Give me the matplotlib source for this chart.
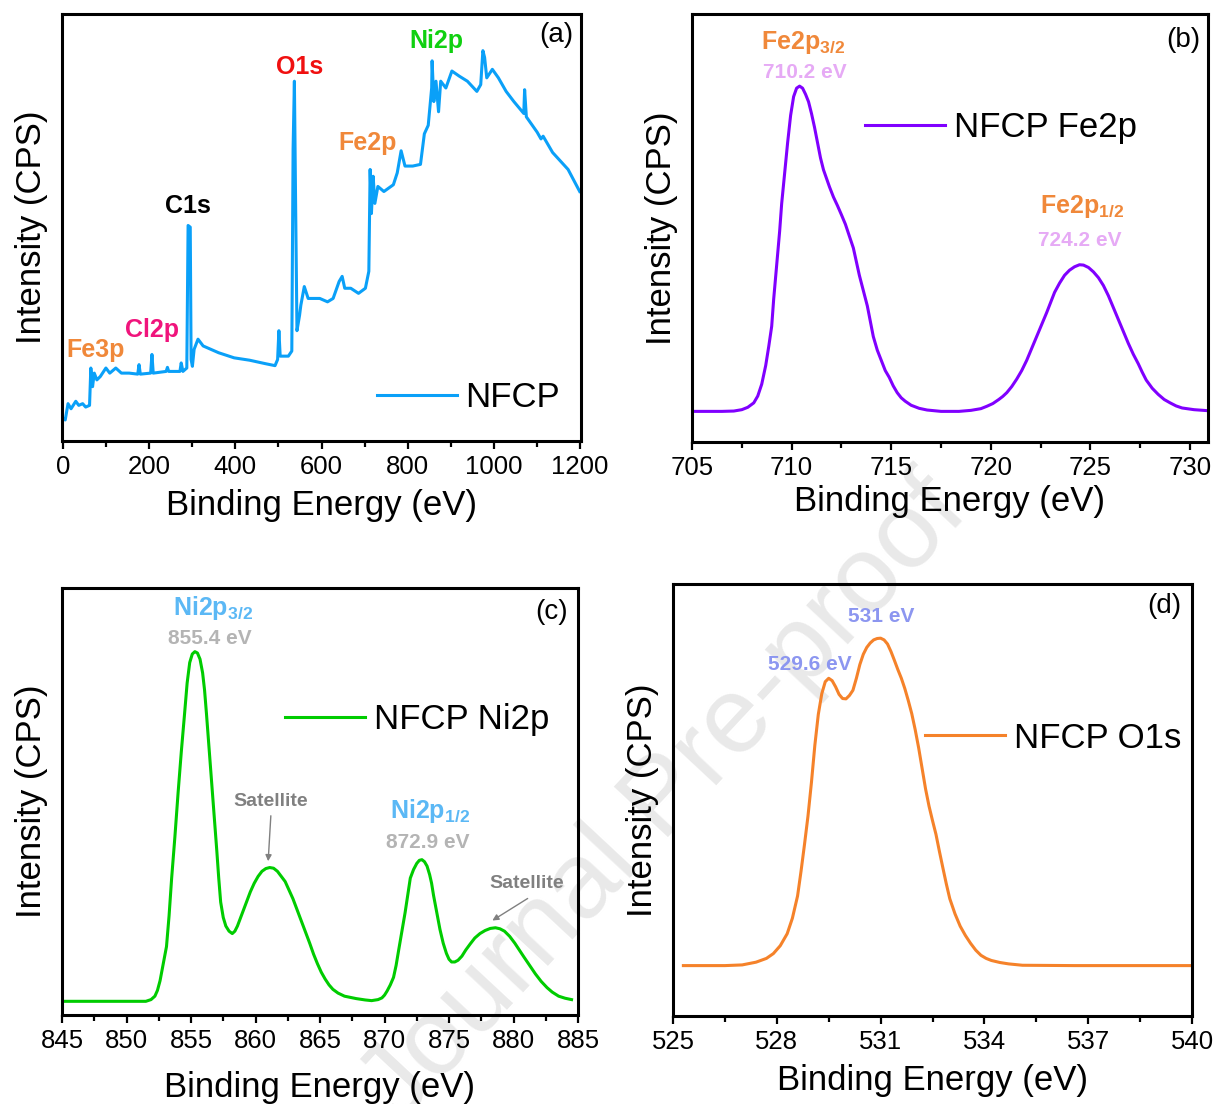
import matplotlib
matplotlib.use("Agg")
import matplotlib.pyplot as plt
from matplotlib.ticker import MultipleLocator

plt.rcParams['font.family'] = ['Liberation Sans', 'DejaVu Sans']
plt.rcParams['mathtext.fontset'] = 'custom'
plt.rcParams['mathtext.rm'] = 'Liberation Sans'
plt.rcParams['mathtext.bf'] = 'Liberation Sans:bold'
plt.rcParams['mathtext.it'] = 'Liberation Sans:italic'

# ---------------- data (arbitrary intensity units) -------------
survey_be = [0, 4.5, 11, 18, 29, 36, 45, 52, 61, 64, 68, 72, 78, 86, 99, 108, 122, 135, 153,
             173, 176, 179, 203, 206, 209, 239, 242, 245, 271, 274, 278, 287, 290, 295, 297,
             300, 304, 313, 325, 361, 397, 433, 469, 492, 498, 501, 504, 523, 531,
             534, 537, 540, 543, 549, 552, 560, 569, 596, 614, 627, 641, 648, 654, 668, 686,
             702, 710, 713, 716, 720, 724, 731, 745, 767, 776, 785, 794, 812, 830, 839, 848,
             856, 857, 861, 866, 872, 877, 889, 903, 920, 939, 961, 970, 975, 979, 984, 997,
             1011, 1029, 1047, 1070, 1072, 1076, 1101, 1110, 1115, 1137, 1173, 1200]
survey_cps = [65, 62, 110, 95, 117, 105, 110, 100, 105, 215, 160, 200, 180, 190, 215, 200, 215,
              200, 200, 197, 225, 197, 200, 255, 200, 205, 217, 205, 205, 230, 205, 215, 635,
              630, 240, 220, 270, 300, 280, 260, 245, 238, 228, 222, 240, 325, 250,
              250, 265, 860, 1060, 680, 325, 370, 400, 455, 420, 420, 410, 420, 470, 485, 450,
              450, 435, 450, 500, 800, 670, 780, 700, 750, 735, 755, 790, 855, 810, 810, 815,
              905, 930, 1040, 1120, 1000, 1060, 970, 1060, 1040, 1090, 1075, 1060, 1030, 1050,
              1150, 1130, 1070, 1095, 1070, 1030, 1000, 965, 1035, 955, 910, 890, 898, 850, 800, 735]

fe_be = [705.0, 706.5, 707.1, 707.5, 707.8, 708.1, 708.3, 708.5, 708.7, 708.85, 709.0, 709.1,
         709.25, 709.4, 709.5, 709.65, 709.8, 709.95, 710.1, 710.25, 710.4, 710.55, 710.7,
         710.85, 711.0, 711.15, 711.3, 711.45, 711.6, 711.75, 711.9, 712.1, 712.3, 712.5,
         712.7, 712.9, 713.1, 713.25, 713.4, 713.6, 713.8, 713.95, 714.1, 714.3, 714.5, 714.7,
         714.9, 715.1, 715.3, 715.5, 715.7, 716.0, 716.4, 716.8, 717.5, 718.4, 719.0, 719.5,
         719.8, 720.1, 720.4, 720.6, 720.8, 721.05, 721.3, 721.55, 721.8, 722.05, 722.3,
         722.55, 722.8, 723.0, 723.2, 723.45, 723.7, 723.95, 724.2, 724.45, 724.65, 724.9,
         725.15, 725.4, 725.65, 725.9, 726.15, 726.4, 726.65, 726.9, 727.15, 727.4, 727.6,
         727.8, 728.1, 728.4, 728.7, 729.0, 729.3, 729.6, 730.2, 730.9]
fe_cps = [90, 90, 91, 95, 102, 115, 135, 170, 225, 280, 340, 420, 520, 620, 700, 790, 880, 960,
          1015, 1040, 1046, 1040, 1022, 1000, 965, 925, 880, 835, 800, 775, 750, 720, 695, 668,
          640, 605, 570, 530, 490, 445, 400, 355, 310, 270, 240, 210, 190, 165, 145, 130, 120,
          108, 99, 94, 90, 90, 93, 98, 105, 113, 125, 134, 145, 163, 185, 210, 240, 275, 310,
          345, 380, 410, 440, 467, 490, 505, 515, 521, 520, 513, 500, 483, 460, 430, 395, 360,
          325, 290, 258, 230, 205, 182, 158, 140, 125, 115, 106, 100, 95, 92]

ni_be = [845.0, 851.5, 851.9, 852.2, 852.4, 852.6, 852.8, 853.0, 853.1, 853.3, 853.5, 853.75,
         854.0, 854.25, 854.5, 854.7, 854.9, 855.1, 855.3, 855.5, 855.7, 855.9, 856.05, 856.2,
         856.4, 856.6, 856.8, 857.0, 857.15, 857.3, 857.5, 857.7, 857.95, 858.2, 858.4, 858.6,
         858.8, 859.0, 859.3, 859.6, 859.9, 860.2, 860.5, 860.8, 861.1, 861.4, 861.7, 862.0,
         862.3, 862.6, 862.9, 863.2, 863.5, 863.85, 864.2, 864.5, 864.8, 865.1, 865.4, 865.7,
         866.0, 866.4, 866.9, 867.8, 868.5, 869.0, 869.5, 869.8, 870.0, 870.2, 870.45, 870.7,
         870.9, 871.1, 871.35, 871.6, 871.8, 872.0, 872.25, 872.5, 872.7, 872.9, 873.1, 873.3,
         873.5, 873.65, 873.8, 874.05, 874.3, 874.55, 874.8, 875.0, 875.2, 875.45, 875.7,
         876.0, 876.3, 876.65, 877.0, 877.4, 877.8, 878.2, 878.6, 878.95, 879.3, 879.7, 880.1,
         880.45, 880.8, 881.25, 881.7, 882.15, 882.6, 883.0, 883.5, 884.0, 884.5]
ni_cps = [40, 40, 45, 55, 72, 100, 140, 180, 200, 290, 400, 520, 650, 770, 880, 970, 1030, 1055,
          1062, 1058, 1040, 1000, 950, 880, 780, 680, 580, 480, 400, 330, 285, 260, 245, 238,
          245, 260, 280, 300, 330, 360, 385, 405, 420, 428, 431, 429, 420, 405, 390, 365, 340,
          310, 280, 245, 210, 178, 150, 125, 105, 88, 75, 64, 55, 48, 44, 42, 45, 50, 58, 70,
          88, 110, 145, 190, 245, 300, 350, 400, 425, 443, 452, 454, 448, 435, 410, 385, 350,
          300, 250, 210, 180, 163, 155, 155, 160, 172, 190, 208, 225, 238, 247, 253, 255, 252,
          245, 230, 210, 190, 170, 145, 120, 98, 80, 67, 55, 49, 45]

o_be = [525.3, 526.5, 527.0, 527.4, 527.7, 527.9, 528.1, 528.3, 528.45, 528.6, 528.7, 528.8,
        528.9, 529.0, 529.1, 529.2, 529.3, 529.4, 529.5, 529.6, 529.7, 529.8, 529.9, 530.0,
        530.1, 530.2, 530.3, 530.4, 530.5, 530.6, 530.7, 530.8, 530.9, 531.0, 531.1, 531.2,
        531.3, 531.4, 531.5, 531.6, 531.7, 531.8, 531.9, 532.0, 532.1, 532.2, 532.3, 532.4,
        532.5, 532.6, 532.7, 532.8, 532.9, 533.0, 533.15, 533.3, 533.45, 533.6, 533.75, 533.9,
        534.05, 534.2, 534.45, 534.7, 535.1, 536.6, 540.0]
o_cps = [147, 147, 149, 157, 168, 182, 205, 240, 285, 350, 422, 500, 582, 680, 790, 880, 940,
         975, 985, 978, 960, 938, 926, 925, 935, 950, 985, 1025, 1055, 1075, 1088, 1097, 1101,
         1102, 1097, 1085, 1063, 1037, 1010, 985, 955, 920, 882, 835, 782, 722, 662, 612, 570,
         530, 480, 432, 385, 342, 298, 262, 235, 212, 192, 177, 168, 162, 156, 152, 148, 147,
         147]

# ---------------- layout ----------------
W, H = 1215, 1104
fig = plt.figure(figsize=(W / 100, H / 100), dpi=100)


def rect(l, t, r, b):
    return [l / W, 1 - b / H, (r - l) / W, (b - t) / H]


def fp(px, py):
    return (px / W, 1 - py / H)


TICK_FS = 18.5
LAB_FS = 25


def style(ax, xlim, ylim, major, minor, xpad):
    ax.set_xlim(*xlim)
    ax.set_ylim(*ylim)
    ax.set_facecolor('none')
    ax.xaxis.set_major_locator(MultipleLocator(major))
    ax.xaxis.set_minor_locator(MultipleLocator(minor))
    ax.set_yticks([])
    for s in ax.spines.values():
        s.set_linewidth(2.2)
    ax.tick_params(axis='x', which='major', direction='out', length=6, width=1.6,
                   labelsize=TICK_FS, pad=4)
    ax.tick_params(axis='x', which='minor', direction='out', length=4, width=1.6)
    ax.set_xlabel('Binding Energy (eV)', fontsize=LAB_FS, labelpad=xpad)
    ax.set_ylabel('Intensity (CPS)', fontsize=LAB_FS, labelpad=10)


def leg(ax, anchor):
    ax.legend(loc='center left', bbox_to_anchor=anchor, frameon=False, fontsize=LAB_FS,
              handlelength=2.3, handletextpad=0.25, borderpad=0, borderaxespad=0)


# watermark
fig.text(*fp(665, 800), 'Journal Pre-proof', fontsize=78, color='#E9E9E9', rotation=47,
         ha='center', va='center', zorder=-5)

# (a) survey
axa = fig.add_axes(rect(62, 14, 581, 441))
axa.plot(survey_be, survey_cps, color='#0AA0F8', lw=2.2, label='NFCP')
style(axa, (-3, 1203), (0, 1258), 200, 100, 7.5)
leg(axa, ((377 - 62) / 519, (441 - 398) / 427))
for txt, px, py, c in [('Fe3p', 96, 350, '#F0883A'), ('Cl2p', 152, 330, '#F0147C'),
                       ('C1s', 188, 206, 'black'), ('O1s', 300, 67, '#F01010'),
                       ('Fe2p', 368, 143, '#F0883A'), ('Ni2p', 436, 41, '#10D010')]:
    fig.text(*fp(px, py), txt, fontsize=18, fontweight='bold', color=c, ha='center', va='center')
fig.text(*fp(556, 35), '(a)', fontsize=20, ha='center', va='center')

# (b) Fe2p
axb = fig.add_axes(rect(692, 14, 1208, 442))
axb.plot(fe_be, fe_cps, color='#8000FF', lw=2.2, label='NFCP Fe2p')
style(axb, (705, 730.9), (0, 1258), 5, 2.5, 4)
leg(axb, ((865 - 692) / 516, (442 - 128) / 428))
fig.text(*fp(803, 42), r'$\mathbf{Fe2p_{3/2}}$', fontsize=18, color='#F0883A', ha='center', va='center')
fig.text(*fp(805, 72), '710.2 eV', fontsize=15, fontweight='bold', color='#E6AAF5', ha='center', va='center')
fig.text(*fp(1082, 206), r'$\mathbf{Fe2p_{1/2}}$', fontsize=18, color='#F0883A', ha='center', va='center')
fig.text(*fp(1080, 240), '724.2 eV', fontsize=15, fontweight='bold', color='#E6AAF5', ha='center', va='center')
fig.text(*fp(1183, 40), '(b)', fontsize=20, ha='center', va='center')

# (c) Ni2p
axc = fig.add_axes(rect(62, 588, 578, 1015))
axc.plot(ni_be, ni_cps, color='#00CC00', lw=2.2, label='NFCP Ni2p')
style(axc, (845, 885), (0, 1248), 5, 2.5, 13)
leg(axc, ((285 - 62) / 516, (1015 - 720) / 427))
fig.text(*fp(213, 608), r'$\mathbf{Ni2p_{3/2}}$', fontsize=18, color='#5BB8F5', ha='center', va='center')
fig.text(*fp(210, 638), '855.4 eV', fontsize=15, fontweight='bold', color='#B4B4B4', ha='center', va='center')
fig.text(*fp(430, 811), r'$\mathbf{Ni2p_{1/2}}$', fontsize=18, color='#5BB8F5', ha='center', va='center')
fig.text(*fp(428, 842), '872.9 eV', fontsize=15, fontweight='bold', color='#B4B4B4', ha='center', va='center')
fig.text(*fp(271, 801), 'Satellite', fontsize=14, fontweight='bold', color='#808080', ha='center', va='center')
fig.text(*fp(527, 884), 'Satellite', fontsize=14, fontweight='bold', color='#808080', ha='center', va='center')
for (x0, y0), (x1, y1) in [((271, 813), (268, 864)), ((530, 897), (490, 922))]:
    axc.annotate('', xy=fp(x1, y1), xycoords='figure fraction', xytext=fp(x0, y0),
                 textcoords='figure fraction',
                 arrowprops=dict(arrowstyle='-|>', color='#808080', lw=1.0, mutation_scale=9))
fig.text(*fp(552, 612), '(c)', fontsize=20, ha='center', va='center')

# (d) O1s
axd = fig.add_axes(rect(673, 584, 1192, 1016))
axd.plot(o_be, o_cps, color='#F5822A', lw=2.2, label='NFCP O1s')
style(axd, (525, 540), (0, 1260), 3, 1.5, 7)
leg(axd, ((925 - 673) / 519, (1016 - 738) / 432))
fig.text(*fp(881, 617), '531 eV', fontsize=15, fontweight='bold', color='#8C96F0', ha='center', va='center')
fig.text(*fp(810, 664), '529.6 eV', fontsize=15, fontweight='bold', color='#8C96F0', ha='center', va='center')
fig.text(*fp(1164, 606), '(d)', fontsize=20, ha='center', va='center')

fig.savefig('out.png', dpi=100)
